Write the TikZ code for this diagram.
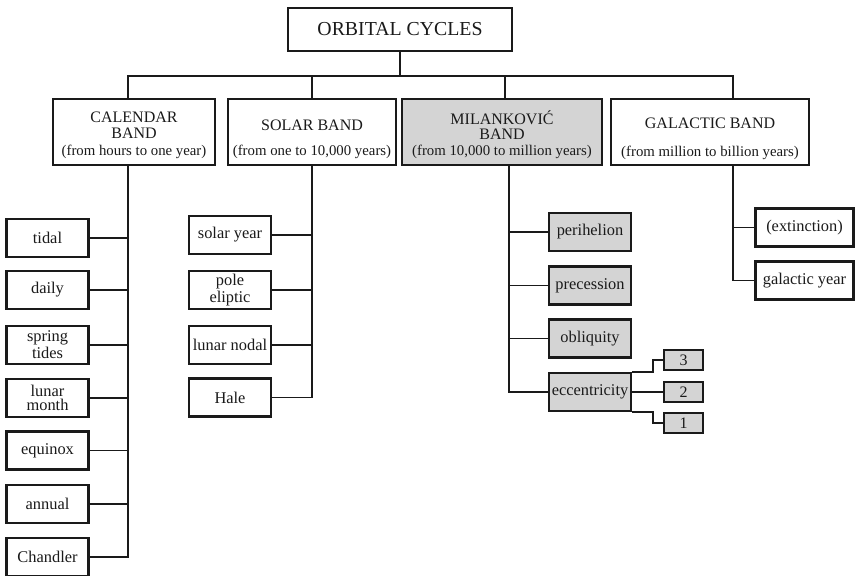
\documentclass[tikz,border=0pt]{standalone}
\usepackage{fontspec}
\setmainfont{Liberation Serif}
\usetikzlibrary{positioning}
\definecolor{milgray}{HTML}{D4D4D4}
\definecolor{inkblack}{HTML}{1A1A1A}

\tikzset{
  box/.style={draw=inkblack, line width=1.1pt, fill=white, inner sep=0pt, align=center, text=inkblack},
  titlebox/.style={box, minimum width=112pt, minimum height=21.5pt, font=\fontsize{9.9}{11}\selectfont},
  bandbox/.style={box, minimum height=33pt},
  leaf/.style={box, minimum width=41pt, minimum height=19pt, font=\fontsize{8.2}{7}\selectfont},
  milleaf/.style={leaf, fill=milgray},
  galleaf/.style={leaf, minimum width=49pt},
  tinybox/.style={box, fill=milgray, minimum width=19.5pt, minimum height=10pt, font=\fontsize{8}{8}\selectfont},
  headtext/.style={text=inkblack, inner sep=0pt, align=center, font=\fontsize{8}{7.8}\selectfont},
  yeartext/.style={text=inkblack, inner sep=0pt, font=\fontsize{7.4}{8}\selectfont},
  wire/.style={draw=inkblack, line width=0.9pt},
}

\begin{document}
\begin{tikzpicture}[x=0.5pt, y=-0.5pt]
\useasboundingbox (0,0) rectangle (855,575);

% Title
\node[titlebox] (title) at (400,29.5) {ORBITAL CYCLES};

%% Bands
\node[bandbox, minimum width=81pt] (cal) at (134,132) {};
\node[headtext] (calh) at (134,125) {CALENDAR\\BAND};
\node[yeartext] (caly) at (134,152) {(from hours to one year)};

\node[bandbox, minimum width=84pt] (solar) at (312,132) {};
\node[headtext] (solarh) at (312,125) {SOLAR BAND};
\node[yeartext] (solary) at (312,152) {(from one to 10,000 years)};

\node[bandbox, minimum width=100pt, fill=milgray] (mil) at (502,132) {};
\node[headtext] (milh) at (502,125) {MILANKOVIĆ\\BAND};
\node[yeartext] (mily) at (502,152) {(from 10,000 to million years)};

\node[bandbox, minimum width=99pt] (gal) at (710,132) {};
\node[headtext] (galh) at (710,123) {GALACTIC BAND};
\node[yeartext] (galy) at (710,153) {(from million to billion years)};

% Bus from title to bands
\draw[wire] (title.south) -- ++(0,24) coordinate (bus);
\draw[wire] ([xshift=-3pt]cal.north) |- (bus) -| ([xshift=11.5pt]gal.north);
\draw[wire] (solar.north) -- (solar.north |- bus);
\draw[wire] ([xshift=1.5pt]mil.north) -- ([xshift=1.5pt]mil.north |- bus);

%% Calendar band cycles
\node[leaf] (tidal) at (47.5,238) {tidal};
\node[leaf] (daily) at (47.5,290) {daily};
\node[leaf] (spring) at (47.5,345) {spring\\tides};
\node[leaf] (lunarm) at (47.5,398) {lunar\\month};
\node[leaf] (equinox) at (47.5,450.5) {equinox};
\node[leaf] (annual) at (47.5,504) {annual};
\node[leaf] (chandler) at (47.5,557) {Chandler};
\foreach \cyc in {tidal,daily,spring,lunarm,equinox,annual,chandler}
  \draw[wire] ([xshift=-3pt]cal.south) |- (\cyc.east);

%% Solar band cycles
\node[leaf] (solaryr) at (230,235) {solar year};
\node[leaf] (pole) at (230,290) {pole\\eliptic};
\node[leaf] (nodal) at (230,345) {lunar nodal};
\node[leaf] (hale) at (230,397.5) {Hale};
\foreach \cyc in {solaryr,pole,nodal,hale}
  \draw[wire] (solar.south) |- (\cyc.east);

%% Milankovic band cycles
\node[milleaf] (peri) at (590,232) {perihelion};
\node[milleaf] (prec) at (590,285.5) {precession};
\node[milleaf] (obl) at (590,338.5) {obliquity};
\node[milleaf] (ecc) at (590,392) {eccentricity};
\foreach \cyc in {peri,prec,obl,ecc}
  \draw[wire] ([xshift=3.5pt]mil.south) |- (\cyc.west);

% Eccentricity periods
\node[tinybox] (e3) at (683.5,360) {3};
\node[tinybox] (e2) at (683.5,392) {2};
\node[tinybox] (e1) at (683.5,423) {1};
\draw[wire] (ecc.north east) -- ++(21,0) |- (e3.west);
\draw[wire] (ecc.east) -- (e2.west);
\draw[wire] (ecc.south east) -- ++(21,0) |- (e1.west);

%% Galactic band cycles
\node[galleaf] (extinct) at (804.5,227.5) {(extinction)};
\node[galleaf] (galyr) at (804.5,280.5) {galactic year};
\foreach \cyc in {extinct,galyr}
  \draw[wire] ([xshift=11.5pt]gal.south) |- (\cyc.west);

\end{tikzpicture}
\end{document}
